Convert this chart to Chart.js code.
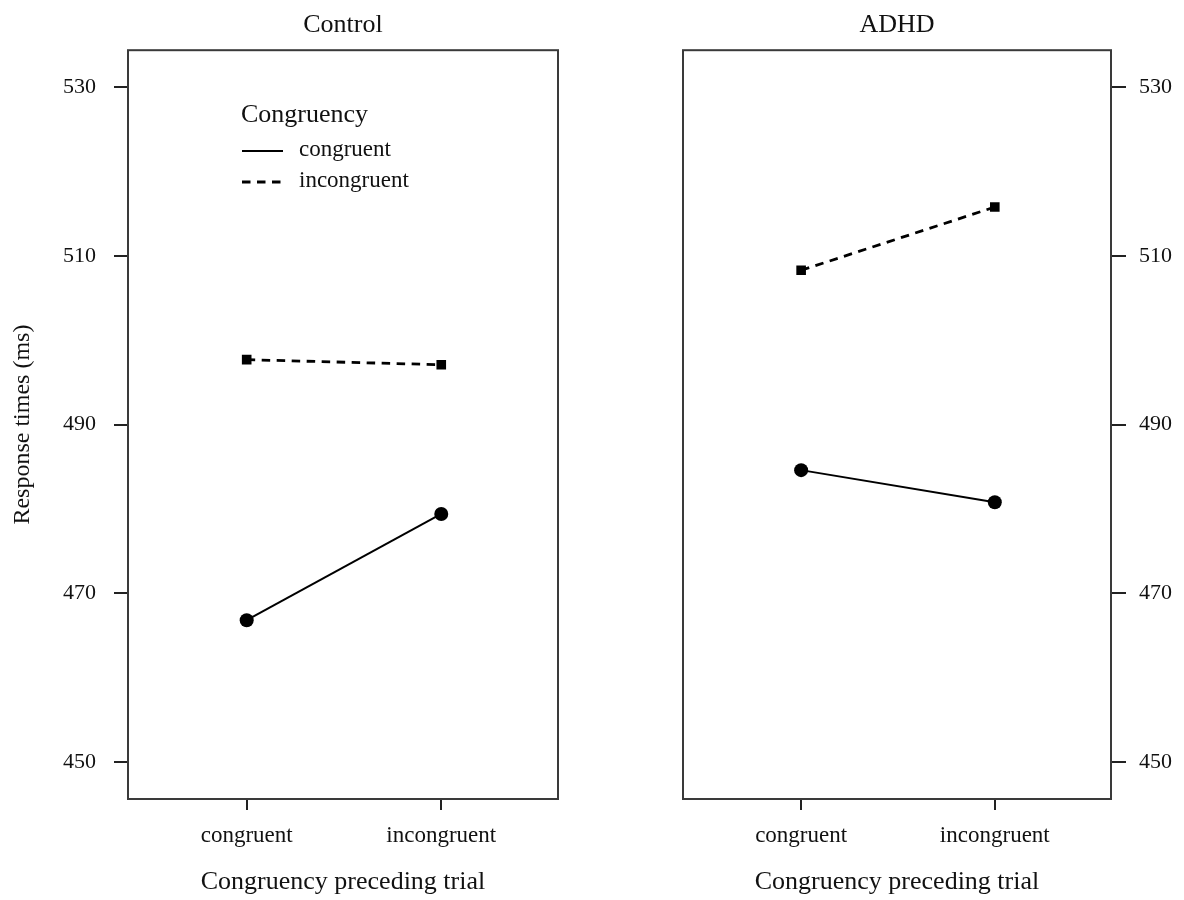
<!DOCTYPE html>
<html>
<head>
<meta charset="utf-8">
<script src="https://cdn.jsdelivr.net/npm/chart.js@4.4.1/dist/chart.umd.min.js"></script>
<style>
  html, body { margin: 0; padding: 0; background: #ffffff; }
  #wrap { position: relative; width: 1184px; height: 900px; }
  canvas { position: absolute; top: 0; }
  #c1 { left: 0; }
  #c2 { left: 600px; }
</style>
</head>
<body>
<div id="wrap">
  <canvas id="c1" width="600" height="900"></canvas>
  <canvas id="c2" width="584" height="900"></canvas>
</div>
<script>
// ---- data ----
const categories = ['congruent', 'incongruent'];
const panelTitles = ['Control', 'ADHD'];
const seriesLabels = ['congruent', 'incongruent'];
const legendTitle = 'Congruency';
const xAxisTitle = 'Congruency preceding trial';
const yAxisTitle = 'Response times (ms)';
const yTicks = [450, 470, 490, 510, 530];
const yMin = 445.6;
const yMax = 534.4;
const controlCongruent = [466.8, 479.4];
const controlIncongruent = [497.7, 497.1];
const adhdCongruent = [484.6, 480.8];
const adhdIncongruent = [508.3, 515.8];

const FONT = "'Liberation Serif', 'Times New Roman', serif";
const INK = '#111111';

function pts(arr) { return arr.map((v, i) => ({ x: i, y: v })); }

function makeDatasets(cong, incong) {
  return [
    {
      label: seriesLabels[0],
      data: pts(cong),
      borderColor: '#000',
      backgroundColor: '#000',
      borderWidth: 2,
      pointStyle: 'circle',
      pointRadius: 7,
      pointBorderWidth: 0,
      pointBackgroundColor: '#000',
      tension: 0
    },
    {
      label: seriesLabels[1],
      data: pts(incong),
      borderColor: '#000',
      backgroundColor: '#000',
      borderWidth: 2.8,
      borderDash: [8.5, 6.5],
      pointStyle: 'rect',
      pointRadius: 6.8,
      pointBorderWidth: 0,
      pointBackgroundColor: '#000',
      tension: 0
    }
  ];
}

const boxPlugin = {
  id: 'box',
  beforeDatasetsDraw(chart) {
    const { ctx, chartArea: a } = chart;
    ctx.save();
    ctx.strokeStyle = '#3a3a3a';
    ctx.lineWidth = 2;
    ctx.strokeRect(a.left, a.top, a.right - a.left, a.bottom - a.top);
    ctx.restore();
  }
};

const legendPlugin = {
  id: 'innerLegend',
  afterDatasetsDraw(chart, args, opts) {
    if (!opts || !opts.show) return;
    const { ctx } = chart;
    ctx.save();
    ctx.fillStyle = INK;
    ctx.textBaseline = 'middle';
    ctx.textAlign = 'left';
    ctx.font = '26px ' + FONT;
    ctx.fillText(legendTitle, 241, 115);
    chart.data.datasets.forEach((ds, i) => {
      const y = 151 + i * 31;
      ctx.beginPath();
      ctx.strokeStyle = '#000';
      ctx.lineWidth = ds.borderWidth;
      ctx.setLineDash(ds.borderDash || []);
      ctx.moveTo(242, y);
      ctx.lineTo(283, y);
      ctx.stroke();
      ctx.setLineDash([]);
      ctx.font = '23px ' + FONT;
      ctx.fillText(ds.label, 299, y - 1);
    });
    ctx.restore();
  }
};

function makeChart(id, title, datasets, side, showLegend) {
  const isLeft = side === 'left';
  return new Chart(document.getElementById(id), {
    type: 'line',
    data: { datasets },
    plugins: [boxPlugin, legendPlugin],
    options: {
      responsive: false,
      animation: false,
      devicePixelRatio: 1,
      layout: {
        padding: isLeft ? { left: 0, right: 42, top: 0, bottom: 0 }
                        : { left: 83, right: 0, top: 0, bottom: 0 }
      },
      plugins: {
        legend: { display: false },
        tooltip: { enabled: false },
        innerLegend: { show: showLegend },
        title: {
          display: true,
          text: title,
          fullSize: false,
          color: INK,
          font: { family: FONT, size: 26, weight: 'normal' },
          padding: { top: 10, bottom: 9 }
        }
      },
      scales: {
        x: {
          type: 'linear',
          min: -0.61,
          max: 1.6,
          afterBuildTicks(scale) {
            scale.ticks = categories.map((c, i) => ({ value: i }));
          },
          afterFit(scale) { scale.height = 101; },
          ticks: {
            callback: (v) => categories[v],
            color: INK,
            font: { family: FONT, size: 23 },
            padding: 12,
            maxRotation: 0,
            autoSkip: false
          },
          grid: {
            display: true,
            drawOnChartArea: false,
            drawTicks: true,
            tickLength: 11,
            color: '#222',
            lineWidth: 2
          },
          border: { display: false },
          title: {
            display: true,
            text: xAxisTitle,
            color: INK,
            font: { family: FONT, size: 26 },
            padding: { top: 0, bottom: 2 }
          }
        },
        y: {
          type: 'linear',
          position: side,
          min: yMin,
          max: yMax,
          afterBuildTicks(scale) {
            scale.ticks = yTicks.map(v => ({ value: v }));
          },
          afterFit(scale) { scale.width = isLeft ? 128 : 73; },
          ticks: {
            color: INK,
            font: { family: FONT, size: 22 },
            padding: isLeft ? 18 : 13
          },
          grid: {
            display: true,
            drawOnChartArea: false,
            drawTicks: true,
            tickLength: isLeft ? 14 : 15,
            color: '#222',
            lineWidth: 2
          },
          border: { display: false },
          title: {
            display: isLeft,
            text: yAxisTitle,
            color: INK,
            font: { family: FONT, size: 24 },
            padding: { top: 8, bottom: 0 }
          }
        }
      }
    }
  });
}

makeChart('c1', panelTitles[0], makeDatasets(controlCongruent, controlIncongruent), 'left', true);
makeChart('c2', panelTitles[1], makeDatasets(adhdCongruent, adhdIncongruent), 'right', false);
</script>
</body>
</html>
